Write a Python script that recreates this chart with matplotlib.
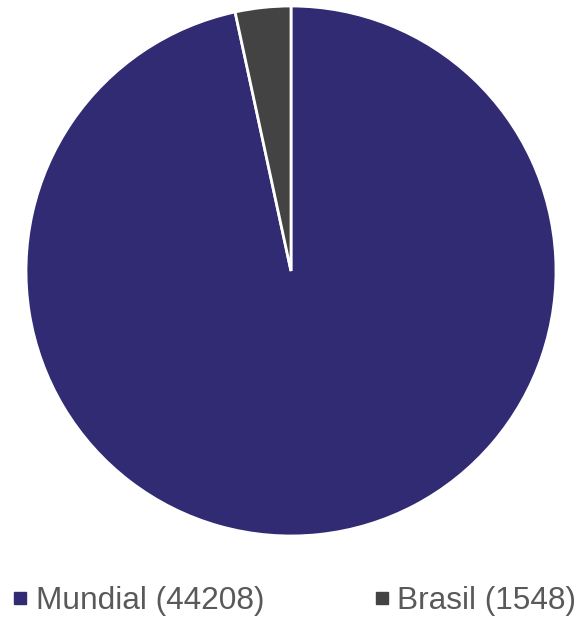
import matplotlib
matplotlib.use("Agg")
import matplotlib.pyplot as plt
from matplotlib.lines import Line2D

labels = ["Mundial", "Brasil"]
values = [44208, 1548]
colors = ["#312B74", "#434343"]

plt.rcParams['font.family'] = ['Liberation Sans', 'DejaVu Sans']

fig = plt.figure(figsize=(5.78, 6.19), dpi=100)
ax = fig.add_axes([26/578, 1 - 536/619, 530/578, 530/619])

ax.pie(values, colors=colors, startangle=90, counterclock=False,
       wedgeprops=dict(edgecolor="white", linewidth=2))
ax.set_xlim(-1, 1)
ax.set_ylim(-1, 1)
ax.set_aspect("equal")

# square markers as legend keys
handles = [Line2D([], [], marker="s", linestyle="none", markersize=9.2,
                  markerfacecolor=c, markeredgecolor=c) for c in colors]
leg_labels = [f"{l} ({v})" for l, v in zip(labels, values)]
fig.legend(handles, leg_labels, loc="center", bbox_to_anchor=(0.51, 1 - 601/619),
           ncol=2, frameon=False, fontsize=22.8, labelcolor="#595959",
           handlelength=0.42, handletextpad=0.29,
           columnspacing=3.5, borderpad=0, borderaxespad=0)

fig.savefig("out.png", dpi=100)
